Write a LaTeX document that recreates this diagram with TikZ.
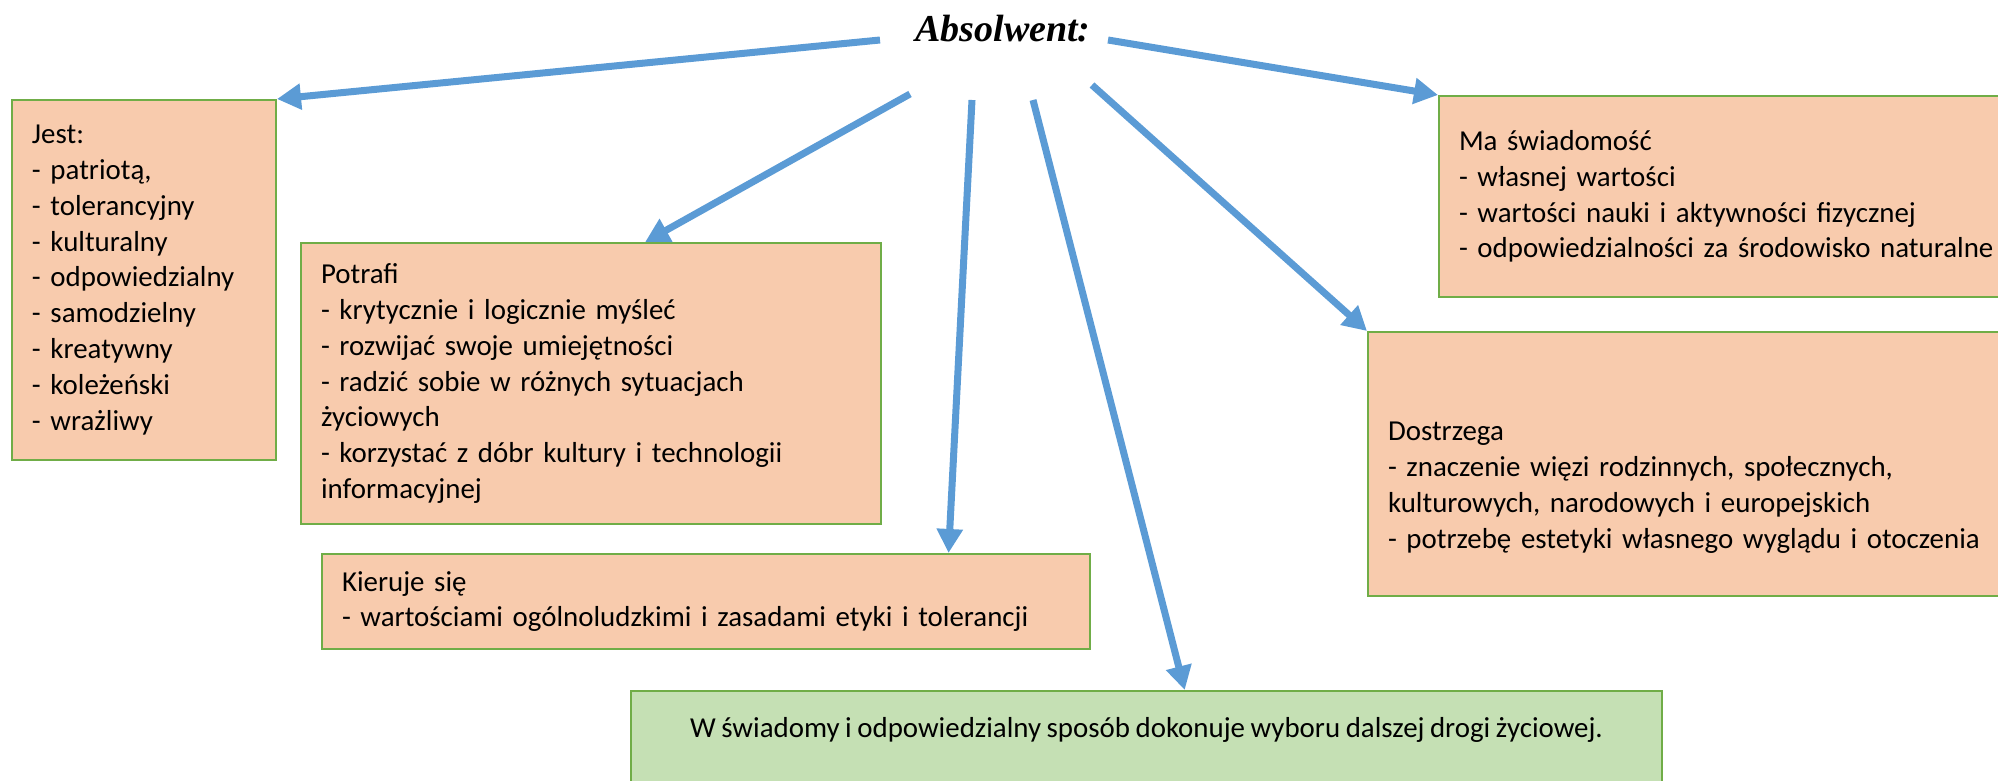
\documentclass[tikz,border=0pt]{standalone}
\usepackage{fontspec}
\setmainfont[WordSpace=0.85]{Carlito}
\newfontfamily\titlefont{Liberation Serif}
\usetikzlibrary{arrows.meta,calc}

\definecolor{peach}{HTML}{F8CBAD}
\definecolor{boxgreen}{HTML}{70AD47}
\definecolor{mint}{HTML}{C5E0B4}
\definecolor{linkblue}{HTML}{5B9BD5}

\begin{document}
\begin{tikzpicture}[x=0.5pt,y=-0.5pt,
  box/.style={draw=boxgreen,line width=1pt,fill=peach,anchor=north west,
    inner xsep=10pt,inner ysep=0pt,align=left,
    font=\fontsize{14.45}{17.9}\selectfont},
  link/.style={draw=linkblue,line width=3.5pt,
    -{Triangle[length=12pt,width=12.5pt]}}]
\useasboundingbox (0,0) rectangle (1998,781);

\node[font=\titlefont\fontsize{19}{22}\selectfont\bfseries\itshape] (title) at (1003,29) {Absolwent:};

\node[box,minimum width=132pt,minimum height=180pt,text width=112pt] (jest) at (11,99)
  {Jest:\\- patriotą,\\- tolerancyjny\\- kulturalny\\- odpowiedzialny\\- samodzielny\\- kreatywny\\- koleżeński\\- wrażliwy};
\node[box,minimum width=290pt,minimum height=140.5pt,text width=270pt] (potrafi) at (300,242)
  {Potrafi\\- krytycznie i logicznie myśleć\\- rozwijać swoje umiejętności\\- radzić sobie w różnych sytuacjach\\życiowych\\- korzystać z dóbr kultury i technologii\\informacyjnej};
\node[box,minimum width=384pt,minimum height=47.5pt,text width=364pt] (kieruje) at (321,553)
  {Kieruje się\\- wartościami ogólnoludzkimi i zasadami etyki i tolerancji};
\node[box,fill=mint,minimum width=515.5pt,text height=23pt,text depth=60pt] (wybor) at (630,690)
  {W świadomy i odpowiedzialny sposób dokonuje wyboru dalszej drogi życiowej.};
\node[box,minimum width=330pt,minimum height=100.5pt,text width=310pt] (ma) at (1438,95)
  {Ma świadomość\\- własnej wartości\\- wartości nauki i aktywności fizycznej\\- odpowiedzialności za środowisko naturalne};
\node[box,minimum width=350pt,minimum height=132pt,text width=330pt] (dostrzega) at (1367,331)
  {\mbox{}\\[15pt]Dostrzega\\- znaczenie więzi rodzinnych, społecznych,\\kulturowych, narodowych i europejskich\\- potrzebę estetyki własnego wyglądu i otoczenia};

\coordinate (s1) at (880,40);
\coordinate (s2) at (910,94);
\coordinate (s3) at (972,100);
\coordinate (s4) at (1033,100);
\coordinate (s5) at (1092,85);
\coordinate (s6) at (1108,40);

\draw[link] (s1) -- (jest.north east);
\draw[link] (s2) -- ($(potrafi.north west)!0.593!(potrafi.north east)$);
\draw[link] (s3) -- ($(kieruje.north west)!0.815!(kieruje.north east)$);
\draw[link] (s4) -- ($(wybor.north west)!0.537!(wybor.north east)$);
\draw[link] (s5) -- (dostrzega.north west);
\draw[link] (s6) -- (ma.north west);
\end{tikzpicture}
\end{document}
